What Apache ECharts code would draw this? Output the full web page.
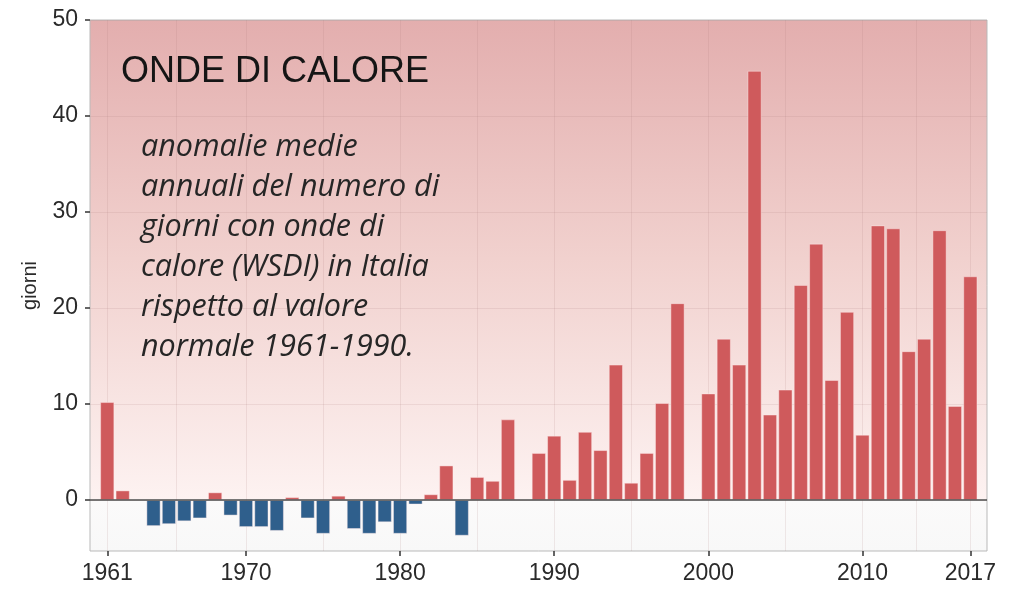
<!DOCTYPE html>
<html>
<head>
<meta charset="utf-8">
<script src="https://cdn.jsdelivr.net/npm/echarts@6/dist/echarts.min.js"></script>
<style>
  html, body { margin: 0; background: #fff; }
  #chart { width: 1017px; height: 589px; }
</style>
</head>
<body>
<div id="chart"></div>
<script>
// anomalie annuali WSDI (giorni)
const years = [
  1961, 1962, 1963, 1964, 1965, 1966, 1967, 1968, 1969, 1970,
  1971, 1972, 1973, 1974, 1975, 1976, 1977, 1978, 1979, 1980,
  1981, 1982, 1983, 1984, 1985, 1986, 1987, 1988, 1989, 1990,
  1991, 1992, 1993, 1994, 1995, 1996, 1997, 1998, 1999, 2000,
  2001, 2002, 2003, 2004, 2005, 2006, 2007, 2008, 2009, 2010,
  2011, 2012, 2013, 2014, 2015, 2016, 2017
]
const anomalies = [
  10.2, 1.0, null, -2.7, -2.5, -2.2, -1.9, 0.8, -1.6, -2.8,
  -2.8, -3.2, 0.3, -1.9, -3.5, 0.45, -3.0, -3.5, -2.3, -3.5,
  -0.45, 0.6, 3.6, -3.7, 2.4, 2.0, 8.4, null, 4.9, 6.7,
  2.1, 7.1, 5.2, 14.1, 1.8, 4.9, 10.1, 20.5, null, 11.1,
  16.8, 14.1, 44.7, 8.9, 11.5, 22.4, 26.7, 12.5, 19.6, 6.8,
  28.6, 28.3, 15.5, 16.8, 28.1, 9.8, 23.3
]
const xTicks = [1961, 1970, 1980, 1990, 2000, 2010, 2017]
const xGridLines = [1961, 1965.5, 1970, 1975, 1980, 1985, 1990, 1995, 2000, 2005, 2010, 2013.5, 2017]
const yTicks = [0, 10, 20, 30, 40, 50]
const titleText = 'ONDE DI CALORE'
const noteLines = [
  'anomalie medie',
  'annuali del numero di',
  'giorni con onde di',
  'calore (WSDI) in Italia',
  'rispetto al valore',
  'normale 1961-1990.'
]
const yName = 'giorni'

const red = '#cf5a5c'
const blue = '#2f5f8c'
const faint = 'rgba(170,120,120,0.15)'
const labelFont = 'Liberation Sans'

const chart = echarts.init(document.getElementById('chart'))

const barData = years.map((y, i) => [y, anomalies[i]])

const option = {
  animation: false,
  title: [
    {
      text: titleText,
      left: 121,
      top: 52,
      padding: 0,
      textStyle: { fontFamily: labelFont, fontSize: 36, fontWeight: 'normal', color: '#151515', lineHeight: 40 }
    },
    {
      text: noteLines.join('\n'),
      left: 141,
      top: 127,
      padding: 0,
      textStyle: { fontFamily: 'Open Sans', fontStyle: 'italic', fontSize: 30.5, fontWeight: 'normal', color: '#262626', lineHeight: 40 }
    }
  ],
  grid: {
    left: 90,
    right: 30,
    top: 20,
    bottom: 38,
    show: true,
    borderColor: '#b9b9b9',
    borderWidth: 1,
    backgroundColor: new echarts.graphic.LinearGradient(0, 0, 0, 1, [
      { offset: 0, color: '#e3aeae' },
      { offset: 0.45, color: '#f1d1ce' },
      { offset: 0.9, color: '#fdf2f1' },
      { offset: 0.906, color: '#fbfafa' },
      { offset: 1, color: '#f8f8f8' }
    ])
  },
  xAxis: [
    {
      type: 'value',
      min: 1959.88,
      max: 2018.08,
      axisLine: { show: false, onZero: false },
      axisTick: { show: true, customValues: xTicks, length: 5, lineStyle: { color: '#333', width: 1.5 } },
      axisLabel: { customValues: xTicks, formatter: v => String(v), fontFamily: labelFont, fontSize: 23, color: '#2a2a2a', margin: 11 },
      splitLine: { show: false }
    },
    {
      type: 'value',
      min: 1959.88,
      max: 2018.08,
      position: 'bottom',
      axisLine: { show: false, onZero: false },
      axisTick: { show: false, customValues: xGridLines },
      axisLabel: { show: false },
      splitLine: { show: true, lineStyle: { color: faint, width: 1 } }
    }
  ],
  yAxis: {
    type: 'value',
    min: -5.3,
    max: 50,
    name: yName,
    nameLocation: 'middle',
    nameGap: 50,
    nameTextStyle: { fontFamily: labelFont, fontSize: 20, color: '#2a2a2a' },
    axisLine: { show: false },
    axisTick: { show: true, customValues: yTicks, length: 5, lineStyle: { color: '#333', width: 1.5 } },
    axisLabel: { customValues: yTicks, fontFamily: labelFont, fontSize: 23, color: '#2a2a2a', margin: 12 },
    splitLine: { show: true, lineStyle: { color: faint, width: 1 } }
  },
  series: [
    {
      type: 'bar',
      xAxisIndex: 0,
      data: barData,
      barWidth: '91%',
      itemStyle: {
        color: p => (p.value[1] >= 0 ? red : blue),
        borderColor: 'rgba(255,235,235,0.55)',
        borderWidth: 0.8
      },
      markLine: {
        silent: true,
        symbol: 'none',
        label: { show: false },
        lineStyle: { color: '#4d4d4d', width: 1.5, type: 'solid' },
        data: [{ yAxis: 0 }]
      }
    }
  ]
}

chart.setOption(option)
</script>
</body>
</html>
